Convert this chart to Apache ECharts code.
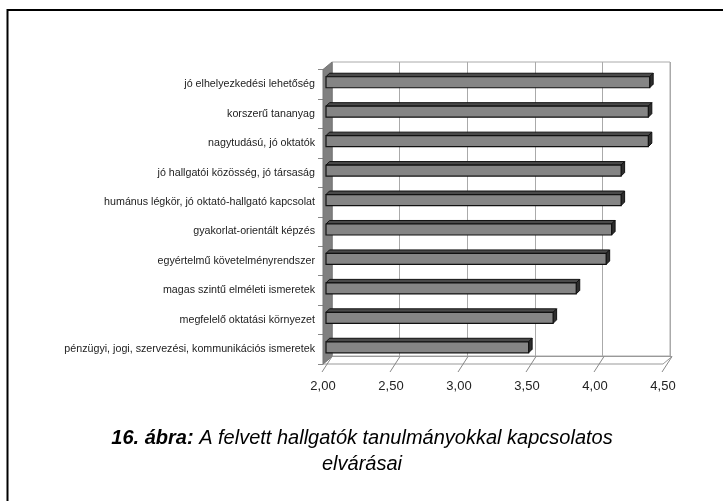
<!DOCTYPE html>
<html>
<head>
<meta charset="utf-8">
<script src="https://cdn.jsdelivr.net/npm/echarts@6/dist/echarts.min.js"></script>
<style>
  html, body { margin: 0; padding: 0; background: #fff; }
  #chart { width: 723px; height: 501px; }
</style>
</head>
<body>
<div id="chart"></div>
<script>
// kategóriák fentről lefelé
const categories = [
  'jó elhelyezkedési lehetőség',
  'korszerű tananyag',
  'nagytudású, jó oktatók',
  'jó hallgatói közösség, jó társaság',
  'humánus légkör, jó oktató-hallgató kapcsolat',
  'gyakorlat-orientált képzés',
  'egyértelmű követelményrendszer',
  'magas szintű elméleti ismeretek',
  'megfelelő oktatási környezet',
  'pénzügyi, jogi, szervezési, kommunikációs ismeretek'
]
const values = [4.38, 4.37, 4.37, 4.17, 4.17, 4.10, 4.06, 3.84, 3.67, 3.49]
const xTicks = [2.0, 2.5, 3.0, 3.5, 4.0, 4.5]
const captionBold = '16. ábra:'
const captionLine1 = 'A felvett hallgatók tanulmányokkal kapcsolatos'
const captionLine2 = 'elvárásai'

const chart = echarts.init(document.getElementById('chart'))

// 3D mélység: hátsó fal eltolása az elülső síkhoz képest
const DX = 9, DY = -7.5

function renderBar(params, api) {
  const idx = api.value(0)
  const v = api.value(1)
  const start = api.coord([2, idx])
  const end = api.coord([v, idx])
  const h = 11
  const ox = 3, oy = -2   // a rúd a mélység közepén
  const d = 3.5           // rúd saját mélysége
  const x0 = start[0] + ox, x1 = end[0] + ox
  const yt = start[1] + oy - h / 2, yb = yt + h
  return {
    type: 'group',
    children: [
      { type: 'polygon', shape: { points: [[x0, yt], [x0 + d, yt - d], [x1 + d, yt - d], [x1, yt]] },
        style: { fill: '#4a4a4a', stroke: '#111', lineWidth: 1 } },
      { type: 'polygon', shape: { points: [[x1, yt], [x1 + d, yt - d], [x1 + d, yb - d], [x1, yb]] },
        style: { fill: '#2e2e2e', stroke: '#111', lineWidth: 1 } },
      { type: 'rect', shape: { x: x0, y: yt, width: x1 - x0, height: h },
        style: { fill: '#858585', stroke: '#111', lineWidth: 1.2 } }
    ]
  }
}

// bal oldalfal és padló a tengely skálájából számolva
function renderFrame(params, api) {
  const t = api.value(0)
  const first = api.coord([xTicks[0], 0])
  const band = api.size([0, 1])[1]
  const topY = first[1] - band / 2
  const botY = topY + band * categories.length
  const x0 = first[0]
  const xt = api.coord([t, 0])[0]
  const xLast = api.coord([xTicks[xTicks.length - 1], 0])[0]
  const children = [
    { type: 'line', shape: { x1: xt - 1, y1: botY + 8, x2: xt + DX, y2: botY + DY },
      style: { stroke: '#888', lineWidth: 1 } }
  ]
  if (params.dataIndex === 0) {
    children.unshift(
      { type: 'polygon', shape: { points: [[x0, botY], [x0 + DX, botY + DY], [xLast + DX, botY + DY], [xLast, botY]] },
        style: { fill: '#fff', stroke: '#999', lineWidth: 1 } },
      { type: 'polygon', shape: { points: [[x0, topY], [x0 + DX, topY + DY], [x0 + DX, botY + DY], [x0, botY]] },
        style: { fill: '#808080', stroke: '#777', lineWidth: 1 } }
    )
  }
  return { type: 'group', children }
}

const captionFont = { fontFamily: 'Liberation Sans', fontSize: 20, fontStyle: 'italic', fill: '#000' }

const option = {
  backgroundColor: '#fff',
  animation: false,
  graphic: [
    { type: 'line', shape: { x1: 7, y1: 10, x2: 723, y2: 10 }, style: { stroke: '#000', lineWidth: 2 } },
    { type: 'line', shape: { x1: 7.5, y1: 9, x2: 7.5, y2: 501 }, style: { stroke: '#000', lineWidth: 2 } },
    {
      type: 'text', x: 362, y: 438,
      style: Object.assign({}, captionFont, {
        text: '{b|' + captionBold + '} ' + captionLine1,
        align: 'center', verticalAlign: 'middle',
        rich: { b: { fontFamily: 'Liberation Sans', fontSize: 20, fontWeight: 'bold', fontStyle: 'italic' } }
      })
    },
    {
      type: 'text', x: 362, y: 464,
      style: Object.assign({}, captionFont, { text: captionLine2, align: 'center', verticalAlign: 'middle' })
    }
  ],
  grid: [
    { left: 332, right: 53, top: 62, bottom: 145, show: true, borderColor: '#aaa', borderWidth: 1, backgroundColor: '#fff' },
    { left: 323, right: 60, top: 69.5, bottom: 137 }
  ],
  xAxis: [
    {
      gridIndex: 0, type: 'value', min: 2, max: 4.5, interval: 0.5,
      axisLine: { show: false }, axisTick: { show: false }, axisLabel: { show: false },
      splitLine: { show: true, lineStyle: { color: '#aaa', width: 1 } }
    },
    {
      gridIndex: 1, type: 'value', min: 2, max: 4.5, interval: 0.5,
      axisLine: { show: false }, axisTick: { show: false },
      splitLine: { show: false },
      axisLabel: {
        margin: 16, fontSize: 13, fontFamily: 'Liberation Sans', color: '#222',
        formatter: v => v.toFixed(2).replace('.', ',')
      }
    }
  ],
  yAxis: [
    { gridIndex: 0, type: 'category', data: categories, inverse: true, show: false },
    {
      gridIndex: 1, type: 'category', data: categories, inverse: true,
      axisLine: { show: true, lineStyle: { color: '#888', width: 1 } },
      axisTick: { show: true, length: 5, lineStyle: { color: '#888' } },
      axisLabel: { margin: 8, fontSize: 10.7, fontFamily: 'Liberation Sans', color: '#222' },
      splitLine: { show: false }
    }
  ],
  series: [
    {
      type: 'custom', xAxisIndex: 1, yAxisIndex: 1, silent: true, z: 1,
      renderItem: renderFrame,
      data: xTicks.map(t => [t])
    },
    {
      type: 'custom', xAxisIndex: 1, yAxisIndex: 1, z: 3,
      renderItem: renderBar,
      data: values.map((v, i) => [i, v])
    }
  ]
}
chart.setOption(option)
</script>
</body>
</html>
